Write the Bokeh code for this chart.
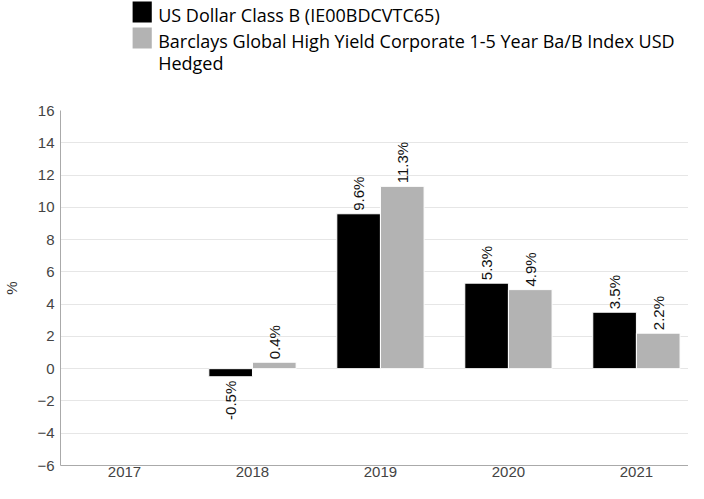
import math
from bokeh.plotting import figure
from bokeh.layouts import column
from bokeh.models import ColumnDataSource, Range1d, FixedTicker
from bokeh.transform import dodge
from bokeh.core.properties import value
from bokeh.embed import file_html
from bokeh.resources import INLINE

years = ["2017", "2018", "2019", "2020", "2021"]
fund = [float("nan"), -0.5, 9.6, 5.3, 3.5]
index = [float("nan"), 0.4, 11.3, 4.9, 2.2]
series_names = ["US Dollar Class B (IE00BDCVTC65)",
                "Barclays Global High Yield Corporate 1-5 Year Ba/B Index USD\nHedged"]
series_colors = ["#000000", "#b3b3b3"]
y_ticks = [-6, -4, -2, 0, 2, 4, 6, 8, 10, 12, 14, 16]

W = 688
LEG_H = 92

# ---------- legend figure (pixel coordinates, y downwards) ----------
leg = figure(width=W, height=LEG_H, x_range=Range1d(0, W), y_range=Range1d(LEG_H, 0),
             output_backend="svg", toolbar_location=None, min_border=0,
             x_axis_location=None, y_axis_location=None)
leg.grid.visible = False
leg.outline_line_color = None
sq_top = [1, 27]
txt_y = [[14], [40, 62]]
for i, (name, col) in enumerate(zip(series_names, series_colors)):
    leg.quad(left=[79], right=[100], top=[sq_top[i]], bottom=[sq_top[i] + 21],
             fill_color=col, line_color=None)
    for j, line in enumerate(name.split("\n")):
        leg.text(x=[107], y=[txt_y[i][j]], text=[line],
                 text_font=value("Open Sans"), text_font_size="18px",
                 text_color="#000000", text_baseline="middle", text_align="left")

# ---------- chart figure ----------
xs = list(range(len(years)))
src = ColumnDataSource(dict(x=xs, fund=fund, index=index))

p = figure(width=W, height=391, x_range=Range1d(-0.5, 4.407), y_range=Range1d(-6, 16),
           output_backend="svg", toolbar_location=None,
           min_border_left=55, min_border_right=0, min_border_top=18, min_border_bottom=18)
p.outline_line_color = None

bw = 0.341
off = 0.1705
p.vbar(x=dodge("x", -off, range=p.x_range), top="fund", bottom=0, width=bw, source=src,
       fill_color=series_colors[0], line_color="white", line_width=1)
p.vbar(x=dodge("x", off, range=p.x_range), top="index", bottom=0, width=bw, source=src,
       fill_color=series_colors[1], line_color="white", line_width=1)

for key, o in (("fund", -off), ("index", off)):
    vals = src.data[key]
    for sign, align, yo in ((1, "left", -3), (-1, "right", 4)):
        sel = [(x, v) for x, v in zip(xs, vals) if v == v and (v >= 0) == (sign > 0)]
        d = dict(x=[x + o for x, v in sel], y=[v for x, v in sel],
                 t=[f"{v:.1f}%" for x, v in sel])
        p.text(x="x", y="y", text="t", source=ColumnDataSource(d), angle=math.pi / 2,
               text_align=align, text_baseline="middle", y_offset=yo,
               text_font=value("Liberation Sans"), text_font_size="15px",
               text_color="#111111")

p.xaxis.ticker = FixedTicker(ticks=xs)
p.xaxis.major_label_overrides = {i: y for i, y in enumerate(years)}
p.yaxis.ticker = FixedTicker(ticks=y_ticks)
p.yaxis.axis_label = "%"
p.yaxis.axis_label_text_font_style = "normal"
p.yaxis.axis_label_text_font = "Liberation Sans"
p.yaxis.axis_label_text_font_size = "15px"
p.yaxis.axis_label_text_color = "#333333"
p.yaxis.axis_label_standoff = 14
for ax in (p.xaxis, p.yaxis):
    ax.major_label_text_font = "Liberation Sans"
    ax.major_label_text_font_size = "15px"
    ax.major_label_text_color = "#444444"
    ax.major_tick_line_color = None
    ax.minor_tick_line_color = None
    ax.major_tick_out = 0
    ax.major_tick_in = 0
    ax.axis_line_color = "#aaaaaa"
p.xaxis.major_label_standoff = 1
p.yaxis.major_label_standoff = 6
p.xgrid.grid_line_color = None
p.ygrid.grid_line_color = "#e6e6e6"

layout = column(leg, p, spacing=0)
open("out.html", "w").write(file_html(layout, INLINE))
